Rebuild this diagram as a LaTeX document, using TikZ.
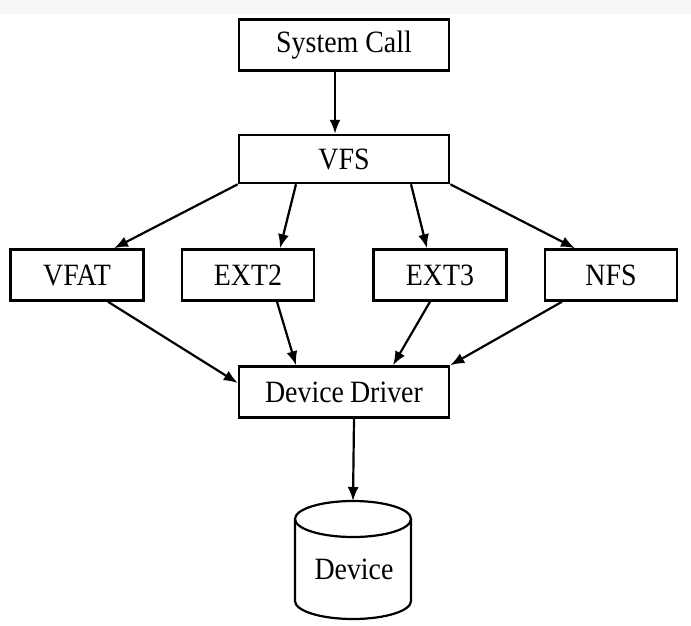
\documentclass[tikz,border=0pt]{standalone}
\usepackage{fontspec}
\setmainfont{Liberation Serif}[FakeStretch=0.9]
\usetikzlibrary{arrows.meta}
\begin{document}
\begin{tikzpicture}[x=1pt,y=-1pt,
  box/.style={draw,line width=2.5pt,inner sep=0pt,font=\fontsize{31}{31}\selectfont},
  arr/.style={line width=2.2pt,-{Latex[length=14pt,width=11pt]}}]
\useasboundingbox (0,0) rectangle (691,625);
\fill[gray!7] (0,0) rectangle (691,14);
\node[box,minimum width=210pt,minimum height=51pt] (sc) at (344,45) {System Call};
\node[box,minimum width=210pt,minimum height=48pt] (vfs) at (344,159) {VFS};
\node[box,minimum width=133pt,minimum height=51pt] (vfat) at (77,275) {VFAT};
\node[box,minimum width=132pt,minimum height=51pt] (ext2) at (248,275) {EXT2};
\node[box,minimum width=133pt,minimum height=51pt] (ext3) at (440,275) {EXT3};
\node[box,minimum width=132pt,minimum height=51pt] (nfs) at (611,275) {NFS};
\node[box,minimum width=210pt,minimum height=51pt] (dd) at (344,392) {Device\hspace{6pt}Driver};
% cylinder
\draw[line width=2.2pt] (295,519) -- (295,601) arc[start angle=180,end angle=360,x radius=58,y radius=-18] -- (411,519);
\draw[line width=2.2pt] (353,519) ellipse[x radius=58,y radius=18];
\coordinate (devtop) at (353,501);
\node[font=\fontsize{31}{31}\selectfont] (dev) at (354,569) {Device};
% arrows
\draw[arr] ([xshift=-9pt]sc.south) -- ([xshift=-9pt]vfs.north);
\draw[arr] (vfs.south west) -- ([xshift=37pt]vfat.north);
\draw[arr] ([xshift=-48pt]vfs.south) -- ([xshift=32pt]ext2.north);
\draw[arr] ([xshift=67pt]vfs.south) -- ([xshift=-13pt]ext3.north);
\draw[arr] (vfs.south east) -- ([xshift=-36pt]nfs.north);
\draw[arr] ([xshift=31pt]vfat.south) -- ([yshift=9pt]dd.west);
\draw[arr] ([xshift=29pt]ext2.south) -- ([xshift=-48pt]dd.north);
\draw[arr] ([xshift=-10pt]ext3.south) -- ([xshift=49pt]dd.north);
\draw[arr] ([xshift=-49pt]nfs.south) -- (dd.north east);
\draw[arr] ([xshift=10pt]dd.south) -- (devtop);
\end{tikzpicture}
\end{document}
